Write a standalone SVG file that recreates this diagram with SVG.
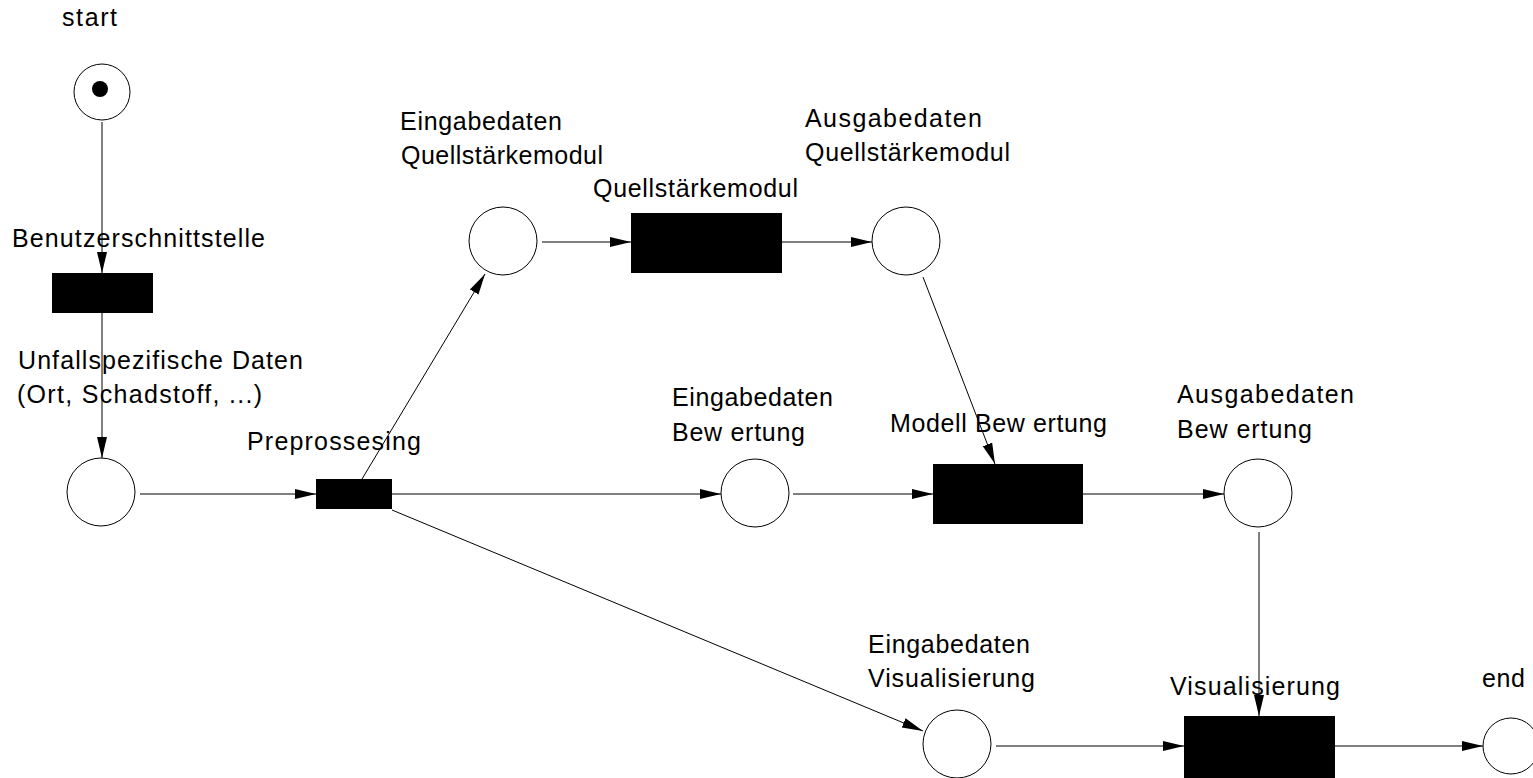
<svg xmlns="http://www.w3.org/2000/svg" width="1533" height="778" viewBox="0 0 1533 778">
<style>
.place{fill:#fff;stroke:#000;stroke-width:1}
.trans{fill:#000;stroke:none}
.arc{fill:none;stroke:#000;stroke-width:1;marker-end:url(#ah)}
text{font-family:"Liberation Sans",Arial,sans-serif;font-size:25px;fill:#000}
</style>
<defs>
<marker id="ah" markerUnits="userSpaceOnUse" markerWidth="21" markerHeight="12" refX="21" refY="6" orient="auto">
<path d="M0,1 L21,6 L0,11 z" fill="#000"/>
</marker>
</defs>
<rect width="1533" height="778" fill="#fff"/>
<g id="connectors">
<line class="arc" x1="102" y1="122" x2="102" y2="273"/>
<line class="arc" x1="102" y1="313" x2="102" y2="458"/>
<line class="arc" x1="140" y1="494" x2="316" y2="494"/>
<line class="arc" x1="362" y1="479" x2="485" y2="274"/>
<line class="arc" x1="392" y1="494" x2="721" y2="494"/>
<line class="arc" x1="392" y1="510" x2="923" y2="731"/>
<line class="arc" x1="542" y1="242" x2="631" y2="242"/>
<line class="arc" x1="782" y1="242" x2="872" y2="242"/>
<line class="arc" x1="923" y1="277" x2="995" y2="464"/>
<line class="arc" x1="793" y1="494" x2="933" y2="494"/>
<line class="arc" x1="1083" y1="494" x2="1224" y2="494"/>
<line class="arc" x1="1259" y1="532" x2="1259" y2="716"/>
<line class="arc" x1="996" y1="746" x2="1184" y2="746"/>
<line class="arc" x1="1335" y1="746" x2="1483" y2="746"/>
</g>
<g id="p-start">
<circle class="place" cx="102" cy="92" r="28"/>
<circle cx="100" cy="89" r="8" fill="#000"/>
<text x="62" y="26" textLength="55" lengthAdjust="spacing">start</text>
</g>
<g id="t-benutzerschnittstelle">
<rect class="trans" x="52" y="273" width="101" height="40"/>
<text x="12" y="247" textLength="253" lengthAdjust="spacing">Benutzerschnittstelle</text>
</g>
<g id="p-unfallspezifische-daten">
<circle class="place" cx="101" cy="492" r="34"/>
<text x="18" y="369" textLength="285" lengthAdjust="spacing">Unfallspezifische Daten</text>
<text x="17" y="403" textLength="245" lengthAdjust="spacing">(Ort, Schadstoff, ...)</text>
</g>
<g id="t-preprossesing">
<rect class="trans" x="316" y="479" width="76" height="30"/>
<text x="247" y="450" textLength="174" lengthAdjust="spacing">Preprossesing</text>
</g>
<g id="p-eingabedaten-quellstaerkemodul">
<circle class="place" cx="503" cy="241" r="34"/>
<text x="400" y="130" textLength="162" lengthAdjust="spacing">Eingabedaten</text>
<text x="401" y="164" textLength="202" lengthAdjust="spacing">Quellstärkemodul</text>
</g>
<g id="t-quellstaerkemodul">
<rect class="trans" x="631" y="213" width="151" height="60"/>
<text x="593" y="197" textLength="205" lengthAdjust="spacing">Quellstärkemodul</text>
</g>
<g id="p-ausgabedaten-quellstaerkemodul">
<circle class="place" cx="906" cy="241" r="34"/>
<text x="805" y="127" textLength="177" lengthAdjust="spacing">Ausgabedaten</text>
<text x="805" y="161" textLength="205" lengthAdjust="spacing">Quellstärkemodul</text>
</g>
<g id="p-eingabedaten-bewertung">
<circle class="place" cx="755" cy="493" r="34"/>
<text x="672" y="406" textLength="161" lengthAdjust="spacing">Eingabedaten</text>
<text x="672" y="441" textLength="133" lengthAdjust="spacing">Bew ertung</text>
</g>
<g id="t-modell-bewertung">
<rect class="trans" x="933" y="464" width="150" height="60"/>
<text x="890" y="432" textLength="217" lengthAdjust="spacing">Modell Bew ertung</text>
</g>
<g id="p-ausgabedaten-bewertung">
<circle class="place" cx="1258" cy="493" r="34"/>
<text x="1177" y="403" textLength="177" lengthAdjust="spacing">Ausgabedaten</text>
<text x="1177" y="438" textLength="135" lengthAdjust="spacing">Bew ertung</text>
</g>
<g id="p-eingabedaten-visualisierung">
<circle class="place" cx="957" cy="744" r="34"/>
<text x="868" y="653" textLength="162" lengthAdjust="spacing">Eingabedaten</text>
<text x="868" y="687" textLength="167" lengthAdjust="spacing">Visualisierung</text>
</g>
<g id="t-visualisierung">
<rect class="trans" x="1184" y="716" width="151" height="62"/>
<text x="1170" y="695" textLength="170" lengthAdjust="spacing">Visualisierung</text>
</g>
<g id="p-end">
<circle class="place" cx="1511" cy="746" r="28"/>
<text x="1482" y="687" textLength="43" lengthAdjust="spacing">end</text>
</g>
</svg>
